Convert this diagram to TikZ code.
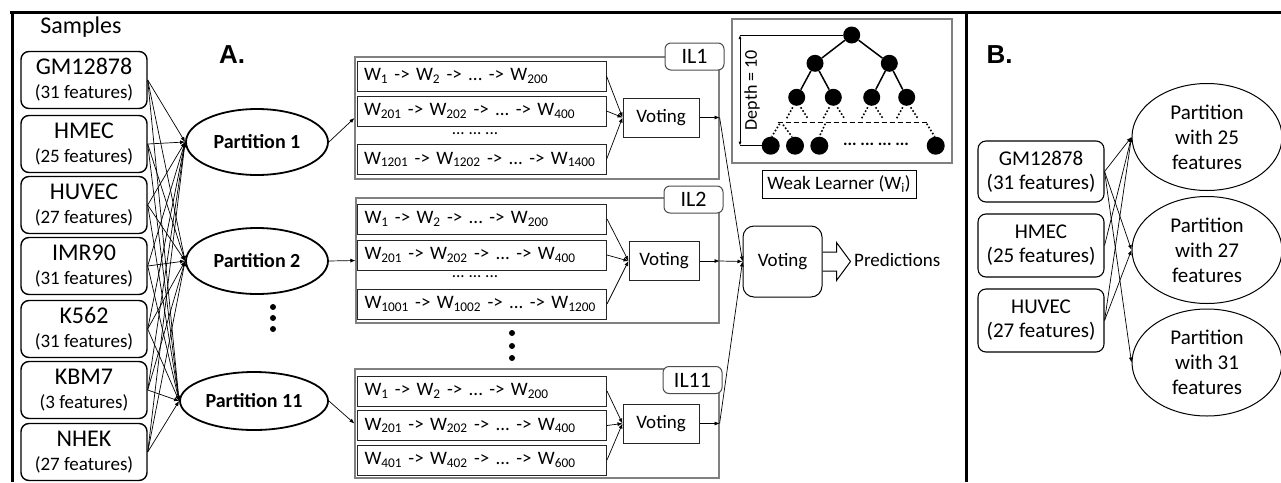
\documentclass[tikz,border=0pt]{standalone}
\usepackage{fontspec}
\setmainfont{Carlito}
\newfontfamily\arialb{Liberation Sans}
\usetikzlibrary{arrows.meta,shapes.geometric}
\newcommand\Wsub[1]{W\textsubscript{#1}}
\newcommand\fs[1]{\fontsize{#1}{#1}\selectfont}
\frenchspacing
\begin{document}
\begin{tikzpicture}[x=1pt,y=-1pt,
  conn/.style={line width=0.7pt,-{Latex[length=5pt,width=4pt]}},
  sampbox/.style={draw, line width=1.4pt, rounded corners=8pt, minimum width=126pt, minimum height=57pt, inner sep=0pt, align=center, font=\fontsize{19}{24}\selectfont},
  part/.style={draw, ellipse, line width=1.8pt, inner sep=0pt, font=\bfseries\fontsize{20}{24}\selectfont},
  ilbox/.style={draw=black!50, line width=1.2pt, inner sep=0pt},
  illabel/.style={draw=black!70, fill=white, line width=1pt, rounded corners=6pt, minimum width=59pt, minimum height=27pt, inner sep=0pt, font=\fontsize{22}{24}\selectfont},
  wrow/.style={draw=black!85, line width=1pt, minimum width=249pt, minimum height=30pt, inner sep=0pt, text width=235pt, align=left, font=\fontsize{19}{20}\selectfont},
  votebox/.style={draw=black!85, line width=1pt, minimum width=76pt, minimum height=39pt, inner sep=0pt, font=\fontsize{19}{22}\selectfont},
  tnode/.style={circle, fill=black, minimum size=17pt, inner sep=0pt},
  tedge/.style={line width=1.5pt},
  tdot/.style={line width=1.6pt, dotted},
  bbox/.style={draw, line width=1.1pt, rounded corners=8pt, minimum width=126pt, minimum height=61pt, inner sep=0pt, align=center, font=\fontsize{21}{24}\selectfont},
  bell/.style={draw, ellipse, line width=1pt, minimum width=150pt, minimum height=107pt, inner sep=0pt, align=center, font=\fontsize{21}{25}\selectfont},
  frame/.style={line width=3pt}
]
\useasboundingbox (0,0) rectangle (1281,482);

% frame
\coordinate (ftl) at (10,12);
\coordinate (ftr) at (1281,12);
\coordinate (flt) at (12,12);
\coordinate (flb) at (12,482);
\coordinate (fdt) at (966,12);
\coordinate (fdb) at (966,482);
\draw[frame] (ftl) -- (ftr);
\draw[frame] (flt) -- (flb);
\draw[frame] (fdt) -- (fdb);

% ---------- Panel A ----------
\node[font=\fs{24}] (samples) at (81,27) {Samples};
\node[font=\arialb\bfseries\fs{26}] (lA) at (232,55) {A.};

\node[sampbox] (s1) at (84,80)  {{\fs{24}GM12878}\\(31 features)};
\node[sampbox] (s2) at (84,144) {{\fs{24}HMEC}\\(25 features)};
\node[sampbox] (s3) at (84,205) {{\fs{24}HUVEC}\\(27 features)};
\node[sampbox] (s4) at (84,266) {{\fs{24}IMR90}\\(31 features)};
\node[sampbox] (s5) at (84,329) {{\fs{24}K562}\\(31 features)};
\node[sampbox] (s6) at (84,390) {{\fs{24}KBM7}\\(3 features)};
\node[sampbox] (s7) at (84,452) {{\fs{24}NHEK}\\(27 features)};

\node[part, minimum width=142pt, minimum height=66pt] (p1) at (257,142) {Partition 1};
\node[part, minimum width=142pt, minimum height=66pt] (p2) at (257,261) {Partition 2};
\node[part, minimum width=148pt, minimum height=58pt] (p11) at (254,401) {Partition 11};

\foreach \s in {s1,s2,s3,s4,s5,s6,s7}
  \foreach \p in {p1,p2,p11}
    \draw[conn] (\s.east) -- (\p.west);

\foreach \yy in {307,318,329} \fill (273,\yy) circle (3pt);

% IL1
\node[ilbox, minimum width=364pt, minimum height=122pt] (il1) at (537,118) {};
\node[illabel] (l1) at (694.5,56.5) {IL1};
\node[wrow] (a1) at (481.5,76) {\Wsub{1} -> \Wsub{2} -> ... -> \Wsub{200}};
\node[wrow] (a2) at (481.5,111) {\Wsub{201} -> \Wsub{202} -> ... -> \Wsub{400}};
\node[font=\fs{17}] (ad) at (475,134) {... ... ...};
\node[wrow] (a3) at (481.5,159.5) {\Wsub{1201} -> \Wsub{1202} -> ... -> \Wsub{1400}};
\node[votebox] (v1) at (661,117.5) {Voting};
\foreach \r in {a1,a2,a3} \draw[conn] (\r.east) -- (v1.west);

% IL2
\node[ilbox, minimum width=363pt, minimum height=125pt] (il2) at (537.5,260.5) {};
\node[illabel] (l2) at (693.5,199.5) {IL2};
\node[wrow] (b1) at (482,219) {\Wsub{1} -> \Wsub{2} -> ... -> \Wsub{200}};
\node[wrow] (b2) at (482,255) {\Wsub{201} -> \Wsub{202} -> ... -> \Wsub{400}};
\node[font=\fs{17}] (bd) at (475,277) {... ... ...};
\node[wrow] (b3) at (482,304) {\Wsub{1001} -> \Wsub{1002} -> ... -> \Wsub{1200}};
\node[votebox, minimum width=70pt] (v2) at (664,261) {Voting};
\foreach \r in {b1,b2,b3} \draw[conn] (\r.east) -- (v2.west);

\foreach \yy in {333,346,358} \fill (512,\yy) circle (3pt);

% IL11
\node[ilbox, minimum width=364pt, minimum height=109pt] (il11) at (537,423.5) {};
\node[illabel] (l11) at (692.5,380) {IL11};
\node[wrow] (c1) at (482,391) {\Wsub{1} -> \Wsub{2} -> ... -> \Wsub{200}};
\node[wrow] (c2) at (482,425.5) {\Wsub{201} -> \Wsub{202} -> ... -> \Wsub{400}};
\node[wrow] (c3) at (482,460) {\Wsub{401} -> \Wsub{402} -> ... -> \Wsub{600}};
\node[votebox] (v11) at (661,423.5) {Voting};
\foreach \r in {c1,c2,c3} \draw[conn] (\r.east) -- (v11.west);

% partitions to ILs
\draw[conn] (p1.east) -- (il1.west);
\draw[conn] (p2.east) -- (il2.west);
\draw[conn] (p11.east) -- (il11.west);

% final voting
\node[draw, line width=1pt, rounded corners=11pt, minimum width=79pt, minimum height=71pt, inner sep=0pt, font=\fs{19}] (fv) at (782.5,261.5) {Voting};
\draw[conn] (v1.east) -- (v1.east -| il1.east);
\draw[conn] (v1.east -| il1.east) -- (fv.west);
\draw[conn] (v2.east) -- (v2.east -| il2.east);
\draw[conn] (v2.east -| il2.east) -- (fv.west);
\draw[conn] (v11.east) -- (v11.east -| il11.east);
\draw[conn] (v11.east -| il11.east) -- (fv.west);

\draw[line width=1pt, line join=miter] (fv.east) ++(0,-9.5) -- ++(14,0) -- ++(0,-9.5) -- ++(14,19) -- ++(-14,19) -- ++(0,-9.5) -- ++(-14,0);
\node[anchor=west, font=\fs{19}, inner sep=0pt] (pred) at (854,260) {Predictions};

% weak learner
\node[draw=black!50, line width=1.2pt, minimum width=220pt, minimum height=144pt, inner sep=0pt] (treebox) at (842,91) {};
\node[draw, line width=0.8pt, minimum width=154pt, minimum height=28pt, inner sep=0pt, font=\fs{19}] (wl) at (839,184) {Weak Learner (W\textsubscript{i})};

\node[tnode] (t0) at (851.7,35) {};
\node[tnode] (t1) at (815,63.3) {};
\node[tnode] (t2) at (889.3,63.3) {};
\node[tnode] (t3) at (796.7,97.3) {};
\node[tnode] (t4) at (833.3,97.3) {};
\node[tnode] (t5) at (871.7,97.3) {};
\node[tnode] (t6) at (906.7,97.3) {};
\node[tnode, minimum size=18pt] (u1) at (770.7,145.7) {};
\node[tnode, minimum size=18pt] (u2) at (795,145.7) {};
\node[tnode, minimum size=18pt] (u3) at (819.3,145.7) {};
\node[tnode, minimum size=18pt] (u4) at (935.7,145.7) {};
\draw[tedge] (t0) -- (t1);
\draw[tedge] (t0) -- (t2);
\draw[tedge] (t1) -- (t3);
\draw[tedge] (t1) -- (t4);
\draw[tedge] (t2) -- (t5);
\draw[tedge] (t2) -- (t6);
\foreach \t in {t3,t4,t5,t6} {
  \draw[tdot] ([shift={(-4,10)}]\t.center) -- ([shift={(-10,21)}]\t.center);
  \draw[tdot] ([shift={(4,10)}]\t.center) -- ([shift={(11,21)}]\t.center);
}
\draw[line width=1.5pt, dash pattern=on 5pt off 3pt] ([shift={(7,-23)}]u1.center) -- ([shift={(-8,-23)}]u4.center);
\draw[tdot] ([shift={(9,-22)}]u1.center) -- ([shift={(1,-9)}]u1.center);
\draw[tdot] ([shift={(-12,-21)}]u2.center) -- ([shift={(-3,-9)}]u2.center);
\draw[tdot] ([shift={(6,-22)}]u3.center) -- ([shift={(0,-9)}]u3.center);
\draw[tdot] ([shift={(-9,-22)}]u4.center) -- ([shift={(-1,-9)}]u4.center);
\node[font=\bfseries\fs{17}, inner sep=0pt] (udots) at (876,144) {... ... ... ...};

\coordinate (dx) at (740,0);
\coordinate (dtop) at (t0.west -| dx);
\coordinate (dbot) at (u1.west -| dx);
\draw[line width=1pt] (t0.west) -- (dtop);
\draw[line width=1pt] (u1.west) -- (dbot);
\draw[line width=1pt, {Latex[length=4pt,width=3pt]}-{Latex[length=4pt,width=3pt]}] (dtop) -- (dbot);
\node[rotate=90, font=\fs{18}] (depth) at (752,90) {Depth = 10};

% ---------- Panel B ----------
\node[font=\arialb\bfseries\fs{26}] (lB) at (999.5,55) {B.};
\node[bbox] (g1) at (1041,171.5) {GM12878\\(31 features)};
\node[bbox, minimum height=63pt] (g2) at (1041,245.5) {HMEC\\(25 features)};
\node[bbox, minimum height=63pt] (g3) at (1041,320.5) {HUVEC\\(27 features)};
\node[bell] (e1) at (1207,137) {Partition\\with 25\\features};
\node[bell] (e2) at (1207,250) {Partition\\with 27\\features};
\node[bell] (e3) at (1207,362.5) {Partition\\with 31\\features};
\draw[conn] (g1.east) -- (e1.west);
\draw[conn] (g1.east) -- (e2.west);
\draw[conn] (g1.east) -- (e3.west);
\draw[conn] (g2.east) -- (e1.west);
\draw[conn] (g3.east) -- (e1.west);
\draw[conn] (g3.east) -- (e2.west);
\end{tikzpicture}
\end{document}
